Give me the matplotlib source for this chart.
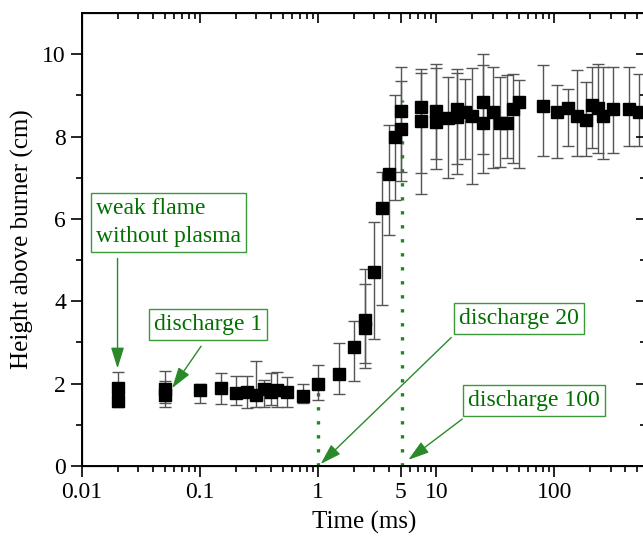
import numpy as np
import matplotlib
matplotlib.use("Agg")
import matplotlib.pyplot as plt

plt.rcParams['font.family'] = ['Liberation Serif', 'DejaVu Serif']

# time (ms), height (cm), lower and upper end of the error bar (cm)
t = [0.02, 0.02, 0.05, 0.05, 0.1, 0.15, 0.2, 0.25, 0.3, 0.35, 0.4, 0.45, 0.55,
     0.75, 1.0, 1.5, 2.0, 2.5, 2.5, 3.0, 3.5, 4.0, 4.5, 5.0, 5.0, 7.5, 7.5,
     10, 10, 12.5, 15, 15, 17.5, 20, 25, 25, 30, 35, 40, 45, 50, 80, 105,
     130, 155, 185, 210, 235, 260, 315, 425, 525]
h = [1.89, 1.58, 1.86, 1.72, 1.84, 1.89, 1.77, 1.8, 1.72, 1.86, 1.79, 1.84, 1.79,
     1.7, 2.0, 2.23, 2.88, 3.34, 3.54, 4.72, 6.27, 7.09, 8.0, 8.62, 8.18, 8.72, 8.38,
     8.62, 8.35, 8.45, 8.67, 8.47, 8.6, 8.5, 8.84, 8.33, 8.6, 8.33, 8.33, 8.67, 8.84, 8.74, 8.6,
     8.69, 8.5, 8.4, 8.77, 8.69, 8.5, 8.67, 8.67, 8.6]
lo = [1.45, 1.43, 1.53, 1.43, 1.53, 1.5, 1.48, 1.4, 1.43, 1.43, 1.48, 1.43, 1.43,
      1.53, 1.6, 1.74, 2.06, 2.37, 2.49, 3.08, 3.92, 5.6, 6.45, 7.14, 6.92, 6.61, 7.12,
      7.46, 7.22, 7.0, 7.33, 7.1, 7.46, 6.85, 7.58, 7.12, 7.24, 7.26, 7.48, 7.36, 7.24, 7.53, 7.48,
      7.77, 7.53, 7.53, 7.72, 7.6, 7.46, 7.6, 7.77, 7.77]
hi = [2.28, 1.95, 2.3, 2.06, 2.0, 2.25, 2.18, 2.18, 2.54, 2.08, 2.25, 2.28, 2.16,
      1.99, 2.45, 2.98, 3.51, 4.43, 4.79, 5.93, 7.14, 8.28, 9.0, 9.69, 9.35, 9.64, 9.55,
      9.76, 9.66, 9.44, 9.64, 9.55, 9.39, 9.66, 10.0, 9.73, 9.69, 9.44, 9.49, 9.52, 9.37, 9.73, 9.25,
      9.15, 9.61, 9.32, 9.69, 9.76, 9.69, 9.69, 9.69, 9.52]

xticks = [0.01, 0.1, 1, 5, 10, 100]
xticklabels = ['0.01', '0.1', '1', '5', '10', '100']
yticks = [0, 2, 4, 6, 8, 10]

# annotation labels: text, text anchor (left, centre), arrow start, arrow tip
notes = ['weak flame\nwithout plasma', 'discharge 1', 'discharge 20', 'discharge 100']
note_xy = [(0.0131, 5.91), (0.0407, 3.43), (15.7, 3.58), (18.7, 1.59)]
arrow_from = [(0.02, 5.04), (0.102, 2.91), (13.4, 3.12), (16.6, 1.14)]
arrow_to = [(0.02, 2.37), (0.058, 1.89), (1.05, 0.05), (5.8, 0.15)]

h = np.array(h)
yerr = [h - np.array(lo), np.array(hi) - h]

green_txt = '#007000'
green_box = '#3a9a3a'
green_line = '#2a8a2a'

fig = plt.figure(figsize=(6.43, 5.38), dpi=100)
ax = fig.add_axes([0.1275, 0.1338, 0.8775, 0.842])

ax.errorbar(t, h, yerr=yerr, fmt='s', color='black', ms=8.5, ecolor='#555555',
            elinewidth=1.0, capsize=4, capthick=1.0, zorder=3)

# dotted markers of discharge times
ax.plot([1, 1], [0, 2.0], color='#1a8a1a', lw=2.4, ls=(0, (1, 3.2)), zorder=2)
ax.plot([5.15, 5.15], [0, 8.9], color='#1a8a1a', lw=2.4, ls=(0, (1, 3.2)), zorder=2)

ax.set_xscale('log')
ax.set_xlim(0.01, 600)
ax.set_ylim(0, 11)
ax.set_xticks(xticks)
ax.set_xticklabels(xticklabels)
ax.set_yticks(yticks)
ax.set_yticks(np.arange(1, 11, 2), minor=True)
ax.tick_params(which='major', direction='out', length=8, width=1.2, labelsize=17)
ax.tick_params(which='minor', direction='out', length=4.5, width=1.2)
ax.xaxis.set_minor_formatter(plt.NullFormatter())
for s in ax.spines.values():
    s.set_linewidth(1.4)

ax.set_xlabel('Time (ms)', fontsize=18, labelpad=6)
ax.set_ylabel('Height above burner (cm)', fontsize=18, labelpad=6)

# inward ticks on top and right
axt = ax.twiny()
axt.set_xscale('log')
axt.set_xlim(ax.get_xlim())
axt.set_xticks(xticks)
axt.tick_params(which='major', direction='in', length=7, width=1.2, labeltop=False)
axt.tick_params(which='minor', direction='in', length=4, width=1.2)
axt.xaxis.set_minor_formatter(plt.NullFormatter())
axr = ax.twinx()
axr.set_ylim(ax.get_ylim())
axr.set_yticks(yticks)
axr.set_yticks(np.arange(1, 11, 2), minor=True)
axr.tick_params(which='major', direction='in', length=7, width=1.2, labelright=False)
axr.tick_params(which='minor', direction='in', length=4, width=1.2)

box = dict(boxstyle='square,pad=0.22', fc='white', ec=green_box, lw=1.0)
arrow = dict(arrowstyle='-|>,head_length=0.8,head_width=0.25', color=green_line,
             lw=1.0, mutation_scale=16, shrinkA=0, shrinkB=0)

for txt, pos, a0, a1 in zip(notes, note_xy, arrow_from, arrow_to):
    ax.text(pos[0], pos[1], txt, fontsize=17, color=green_txt, bbox=box,
            ha='left', va='center', linespacing=1.45, zorder=4)
    ax.annotate('', xy=a1, xytext=a0, arrowprops=arrow, zorder=4)

fig.savefig('out.png', dpi=100)
